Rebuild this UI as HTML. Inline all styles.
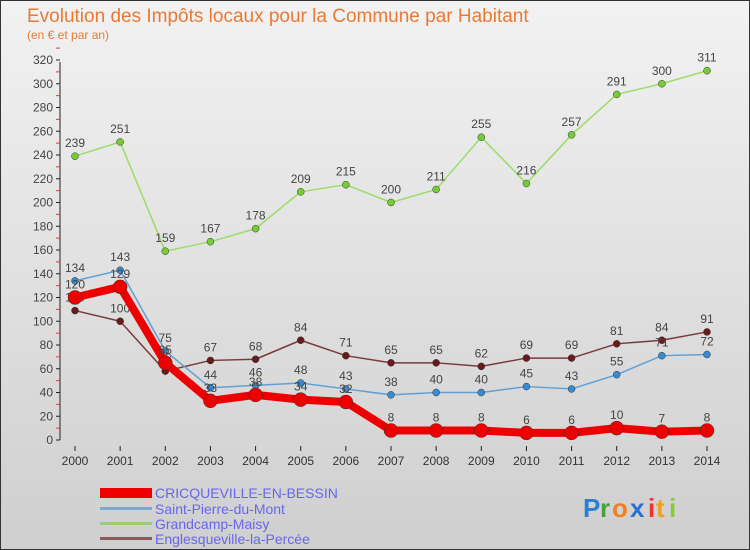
<!DOCTYPE html>
<html><head><meta charset="utf-8"><style>
body{margin:0;width:750px;height:550px;overflow:hidden;font-family:"Liberation Sans",sans-serif}
svg{display:block}
</style></head><body>
<svg id="c" width="750" height="550" xmlns="http://www.w3.org/2000/svg">
<defs><linearGradient id="bg" x1="0" y1="0" x2="0" y2="1"><stop offset="0" stop-color="#f2f2f2"/><stop offset="1" stop-color="#cfcfcf"/></linearGradient></defs>
<rect x="0.5" y="0.5" width="749" height="549" fill="url(#bg)" stroke="#333"/>
<text x="27" y="22" font-size="19" fill="#e87a35">Evolution des Impôts locaux pour la Commune par Habitant</text>
<text x="27" y="39" font-size="12" fill="#e87a35">(en € et par an)</text>
<g id="axes"></g><g id="series"></g>
<g>
<rect x="100" y="488" width="52" height="10" fill="#ee0000"/>
<text x="155" y="498" font-size="14" fill="#6666ee">CRICQUEVILLE-EN-BESSIN</text>
<rect x="100" y="507" width="52" height="3" fill="#7aa8cf"/>
<text x="155" y="514" font-size="14" fill="#6666ee">Saint-Pierre-du-Mont</text>
<rect x="100" y="522" width="52" height="3" fill="#99cc77"/>
<text x="155" y="529" font-size="14" fill="#6666ee">Grandcamp-Maisy</text>
<rect x="100" y="537" width="52" height="3" fill="#8b5a5a"/>
<text x="155" y="544" font-size="14" fill="#6666ee">Englesqueville-la-Percée</text>
</g>
<g font-size="26" font-weight="bold">
<text x="583" y="517" fill="#2a7fd4">P</text><text x="600" y="517" fill="#4aa03a">r</text><text x="612" y="517" fill="#f08020">o</text><text x="630" y="517" fill="#2a6fd4">x</text><text x="648" y="517" fill="#ee3333">i</text><text x="656" y="517" fill="#f0a020">t</text><text x="669" y="517" fill="#88cc33">i</text>
</g>
</svg>
<script>
const years=[2000,2001,2002,2003,2004,2005,2006,2007,2008,2009,2010,2011,2012,2013,2014];
const yTicks=[0,20,40,60,80,100,120,140,160,180,200,220,240,260,280,300,320];
const cric=[120,129,65,33,38,34,32,8,8,8,6,6,10,7,8];
const spm=[134,143,75,44,46,48,43,38,40,40,45,43,55,71,72];
const gm=[239,251,159,167,178,209,215,200,211,255,216,257,291,300,311];
const eng=[109,100,58,67,68,84,71,65,65,62,69,69,81,84,91];
const NS="http://www.w3.org/2000/svg";
const X=i=>75+i*(707-75)/(years.length-1);
const Y=v=>440-v*(380/320);
function mk(t,a,p){const e=document.createElementNS(NS,t);for(const k in a)e.setAttribute(k,a[k]);p.appendChild(e);return e;}
const ax=document.getElementById('axes');
const yl=mk('line',{x1:60,y1:Y(0),x2:60,y2:Y(320)+2,stroke:'#222','stroke-width':1},ax);


yTicks.forEach(v=>{
 mk('line',{x1:56,y1:Y(v),x2:60,y2:Y(v),stroke:'#222'},ax);
 mk('line',{x1:56,y1:Y(v+10),x2:60,y2:Y(v+10),stroke:'#e33'},ax);
 const t=mk('text',{x:53,y:Y(v)+4,'font-size':12,'text-anchor':'end',fill:'#444'},ax);
 t.textContent=v;
 
 
});
years.forEach((yr,i)=>{
 mk('line',{x1:X(i),y1:446,x2:X(i),y2:451,stroke:'#222'},ax);
 const t=mk('text',{x:X(i),y:465,'font-size':12,'text-anchor':'middle',fill:'#333'},ax);
 t.textContent=yr;
 
 
});
const sg=document.getElementById('series');
function series(d,name,col,dot,w,r,labOff){
 const g=mk('g',{},sg);
 
 
 const pl=mk('polyline',{points:d.map((v,i)=>X(i)+','+Y(v)).join(' '),fill:'none',stroke:col,'stroke-width':w,'stroke-linejoin':'round'},g);
 
 
 d.forEach((v,i)=>{
  const c=mk('circle',{cx:X(i),cy:Y(v),r:r,fill:dot,stroke:'#333','stroke-width':0.5},g);
  
  
  const t=mk('text',{x:X(i),y:Y(v)+labOff,'font-size':12,'text-anchor':'middle',fill:'#444'},g);
  t.textContent=v;
  
  
 });
}
series(gm,'grandcamp-maisy','#99dd66','#77cc33',1.5,3.5,-9);
series(eng,'englesqueville','#7a3a3a','#6a1a1a',1.5,3.5,-9);
series(spm,'saint-pierre-du-mont','#5fa0d8','#3a8ad0',1.5,3.5,-9);
series(cric,'cricqueville','#ee0000','#ee0000',8,7,-9);
</script>
</body></html>
